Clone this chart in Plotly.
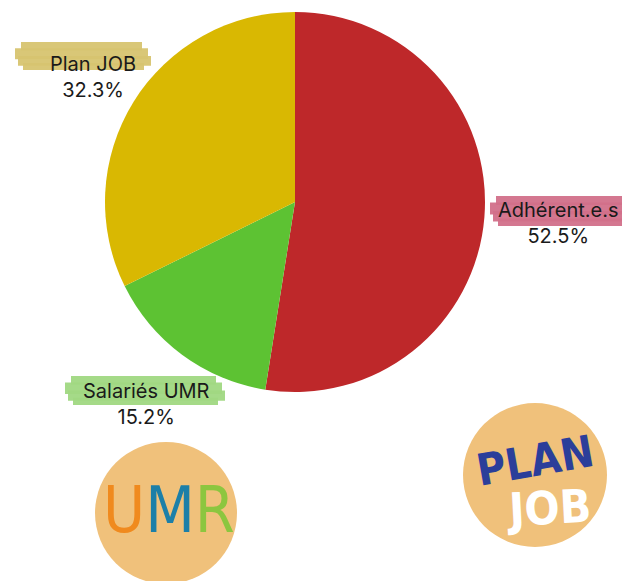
import plotly.graph_objects as go

labels = ["Adhérent.e.s", "Salariés UMR", "Plan JOB"]
values = [52.5, 15.2, 32.3]
colors = ["#BE282A", "#5DC233", "#D9B802"]

W, H = 630, 581
OFF = 8  # page body margin offset

def px(x):
    return (x - OFF) / W

def py(y):
    return 1 - (y - OFF) / H

fig = go.Figure()
fig.add_trace(go.Pie(
    labels=labels, values=values, sort=False, direction="clockwise",
    marker=dict(colors=colors, line=dict(width=0)),
    textinfo="none", hoverinfo="label+percent", showlegend=False,
    domain=dict(x=[px(105), px(485)], y=[py(392), py(12)]),
))

shapes = []
annotations = []

brushes = {
    "Plan JOB": dict(x0=15, x1=148, y0=42, y1=70, color="rgba(215,196,112,0.95)"),
    "Adhérent.e.s": dict(x0=490, x1=628, y0=196, y1=226, color="rgba(210,112,138,0.95)"),
    "Salariés UMR": dict(x0=65, x1=222, y0=376, y1=405, color="rgba(160,216,130,0.95)"),
}
label_pos = {
    "Plan JOB": (93, 77),
    "Adhérent.e.s": (558, 223),
    "Salariés UMR": (146, 404),
}
for lab, val in zip(labels, values):
    b = brushes[lab]
    h = b["y1"] - b["y0"]
    strokes = [(6, 0.0, 0.3, -6), (0, 0.22, 0.62, 0), (3, 0.5, 0.85, 3), (8, 0.75, 1.0, -4)]
    for dx, a, c, dx2 in strokes:
        shapes.append(dict(
            type="rect", xref="paper", yref="paper", layer="below",
            x0=px(b["x0"] + dx), x1=px(b["x1"] + dx2),
            y0=py(b["y0"] + a * h), y1=py(b["y0"] + c * h),
            fillcolor=b["color"], line=dict(width=0),
        ))
    x, y = label_pos[lab]
    annotations.append(dict(
        x=px(x), y=py(y), xref="paper", yref="paper", showarrow=False,
        xanchor="center", yanchor="middle",
        text=f"{lab}<br>{val:.1f}%", align="center",
        font=dict(family="Inter, Roboto, sans-serif", size=20, color="#1a1a1a"),
    ))

for cx, cy, r in [(166, 513, 71), (535, 475, 72)]:
    shapes.append(dict(
        type="circle", xref="paper", yref="paper",
        x0=px(cx - r), x1=px(cx + r), y0=py(cy + r), y1=py(cy - r),
        fillcolor="#F0C17B", line=dict(width=0),
    ))

annotations.append(dict(
    x=px(169), y=py(510), xref="paper", yref="paper", showarrow=False,
    xanchor="center", yanchor="middle",
    text="<span style='color:#F08A1E'>U</span><span style='color:#1C7FA8'>M</span><span style='color:#8CC63F'>R</span>",
    font=dict(family="DejaVu Sans Condensed, sans-serif", size=64),
))
annotations.append(dict(
    x=px(535), y=py(460), xref="paper", yref="paper", showarrow=False,
    xanchor="center", yanchor="middle",
    text="<b>PLAN</b>", textangle=-10,
    font=dict(family="DejaVu Sans Condensed, sans-serif", size=44, color="#2B3E9A"),
))
annotations.append(dict(
    x=px(548), y=py(508), xref="paper", yref="paper", showarrow=False,
    xanchor="center", yanchor="middle",
    text="<b>JOB</b>", textangle=-3,
    font=dict(family="DejaVu Sans Condensed, sans-serif", size=46, color="#FFFFFF"),
))

fig.update_layout(
    width=W, height=H, margin=dict(l=0, r=0, t=0, b=0),
    paper_bgcolor="white", plot_bgcolor="white",
    shapes=shapes, annotations=annotations,
)
fig.write_html("out.html")
